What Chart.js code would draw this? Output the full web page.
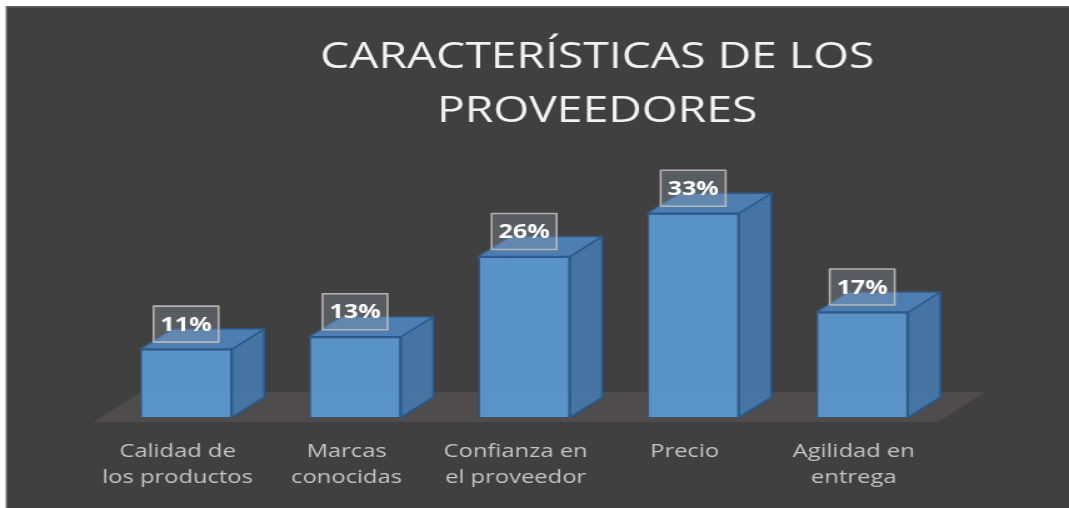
<!DOCTYPE html>
<html><head><meta charset="utf-8">
<script src="https://cdn.jsdelivr.net/npm/chart.js@4/dist/chart.umd.min.js"></script>
<style>
html,body{margin:0;padding:0;background:#fff;overflow:hidden;width:1069px;height:508px;}
#wrap{position:absolute;left:0;top:0;width:855px;height:508px;transform:scale(1.25029,1);transform-origin:0 0;}
canvas{display:block;}
</style></head><body>
<div id="wrap"><canvas id="c" width="855" height="508"></canvas></div>
<script>
const titleLines = ['CARACTERÍSTICAS DE LOS', 'PROVEEDORES'];
const categories = [['Calidad de', 'los productos'], ['Marcas', 'conocidas'], ['Confianza en', 'el proveedor'], ['Precio'], ['Agilidad en', 'entrega']];
const values = [11, 13, 26, 33, 17];
const valueLabels = ['11%', '13%', '26%', '33%', '17%'];

const depth = {dx: 25.6, dy: -20};
const floorDepth = {dx: 37.6, dy: -30};
const edgeColor = '#2b5b8d';

function barBox(bar) {
  const p = bar.getProps(['x', 'y', 'base', 'width'], true);
  return {l: p.x - p.width / 2, r: p.x + p.width / 2, x: p.x, top: p.y, base: p.base};
}

const threeD = {
  id: 'threeD',
  beforeDraw(chart) {
    const ctx = chart.ctx, W = chart.width, H = chart.height;
    ctx.save();
    ctx.fillStyle = '#ffffff'; ctx.fillRect(0, 0, W, H);
    ctx.fillStyle = '#404040'; ctx.fillRect(4.8, 6, W, H);
    ctx.fillStyle = '#5f5f5f'; ctx.fillRect(4.8, 6, 1.4, H); ctx.fillRect(4.8, 6, W, 1.6);
    ctx.fillStyle = '#f2f2f2';
    ctx.font = '37px "Open Sans"';
    ctx.textAlign = 'center'; ctx.textBaseline = 'alphabetic';
    ctx.fillText(titleLines[0], 477.6, 68);
    ctx.fillText(titleLines[1], 477.6, 122);
    ctx.restore();
  },
  beforeDatasetsDraw(chart) {
    const {ctx, chartArea: a} = chart;
    const fy = a.bottom + 5, x0 = a.left - 6.4, x1 = a.right - 6.8;
    ctx.save();
    ctx.fillStyle = '#4e4c4c';
    ctx.beginPath();
    ctx.moveTo(x0, fy); ctx.lineTo(x1, fy);
    ctx.lineTo(x1 + floorDepth.dx, fy + floorDepth.dy);
    ctx.lineTo(x0 + floorDepth.dx, fy + floorDepth.dy);
    ctx.closePath(); ctx.fill();
    ctx.strokeStyle = 'rgba(45,90,140,0.7)'; ctx.lineWidth = 1;
    chart.getDatasetMeta(0).data.forEach(bar => {
      const b = barBox(bar);
      ctx.beginPath();
      ctx.moveTo(b.l + depth.dx, b.top + depth.dy); ctx.lineTo(b.l + depth.dx, b.base + depth.dy);
      ctx.lineTo(b.r + depth.dx, b.base + depth.dy);
      ctx.moveTo(b.l + depth.dx, b.base + depth.dy); ctx.lineTo(b.l, b.base);
      ctx.stroke();
    });
    ctx.restore();
  },
  afterDatasetsDraw(chart) {
    const ctx = chart.ctx;
    const bars = chart.getDatasetMeta(0).data;
    ctx.save();
    ctx.lineWidth = 1.5; ctx.strokeStyle = edgeColor; ctx.lineJoin = 'round';
    bars.forEach(bar => {
      const b = barBox(bar);
      ctx.fillStyle = 'rgba(70,118,168,0.95)';
      ctx.beginPath();
      ctx.moveTo(b.r, b.top); ctx.lineTo(b.r + depth.dx, b.top + depth.dy);
      ctx.lineTo(b.r + depth.dx, b.base + depth.dy); ctx.lineTo(b.r, b.base);
      ctx.closePath(); ctx.fill(); ctx.stroke();
      ctx.fillStyle = 'rgba(78,130,184,0.95)';
      ctx.beginPath();
      ctx.moveTo(b.l, b.top); ctx.lineTo(b.r, b.top);
      ctx.lineTo(b.r + depth.dx, b.top + depth.dy); ctx.lineTo(b.l + depth.dx, b.top + depth.dy);
      ctx.closePath(); ctx.fill(); ctx.stroke();
    });
    bars.forEach((bar, i) => {
      const b = barBox(bar);
      const cy = b.top - 25, w = 52, h = 36;
      ctx.fillStyle = 'rgba(150,160,175,0.30)';
      ctx.fillRect(b.x - w / 2, cy - h / 2, w, h);
      ctx.strokeStyle = 'rgba(190,190,190,0.9)'; ctx.lineWidth = 1.6;
      ctx.strokeRect(b.x - w / 2, cy - h / 2, w, h);
      ctx.fillStyle = '#ffffff';
      ctx.font = 'bold 20px "Open Sans"';
      ctx.textAlign = 'center'; ctx.textBaseline = 'middle';
      ctx.fillText(valueLabels[i], b.x, cy + 1);
    });
    ctx.restore();
  }
};

new Chart(document.getElementById('c'), {
  type: 'bar',
  data: {
    labels: categories,
    datasets: [{
      data: values,
      backgroundColor: 'rgba(91,155,213,0.9)',
      borderColor: edgeColor,
      borderWidth: 1.5,
      categoryPercentage: 1,
      barPercentage: 0.544
    }]
  },
  options: {
    responsive: false,
    animation: false,
    layout: {padding: {left: 81.2, right: 97.8, top: 170, bottom: 17}},
    plugins: {legend: {display: false}, tooltip: {enabled: false}, title: {display: false}},
    scales: {
      x: {
        grid: {display: false, drawTicks: false},
        border: {display: false},
        afterFit(scale) { scale.height = 74; },
        ticks: {
          color: '#c4c4c4',
          font: {family: '"Open Sans"', size: 19, lineHeight: '26px'},
          padding: 22, labelOffset: -6.8, maxRotation: 0, autoSkip: false
        }
      },
      y: {display: false, min: 0, max: 40}
    }
  },
  plugins: [threeD]
});
</script>
</body></html>
